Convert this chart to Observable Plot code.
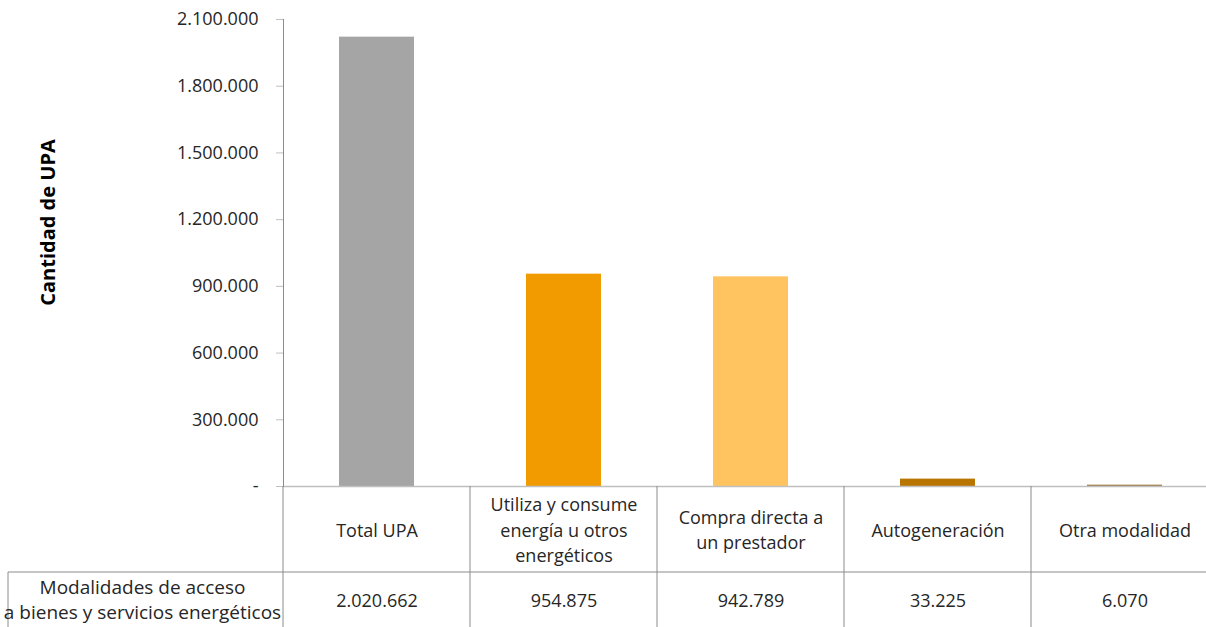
<!DOCTYPE html>
<html><head><meta charset="utf-8">
<script src="https://cdn.jsdelivr.net/npm/d3@7"></script>
<script src="https://cdn.jsdelivr.net/npm/@observablehq/plot@0.6"></script>
<style>body{margin:0;background:#fff;overflow:hidden;} #chart svg{overflow:visible;}</style>
</head><body><div id="chart"></div>
<script>
const categories = ["Total UPA", "Utiliza y consume\nenergía u otros\nenergéticos", "Compra directa a\nun prestador", "Autogeneración", "Otra modalidad"];
const values = [2020662, 954875, 942789, 33225, 6070];
const colors = ["#a5a5a5", "#f29b00", "#ffc460", "#b87500", "#9e7b45"];
const yTicks = [0, 300000, 600000, 900000, 1200000, 1500000, 1800000, 2100000];
const rowLabel = "Modalidades de acceso\na bienes y servicios energéticos";
const yLabel = "Cantidad de UPA";

const data = categories.map((c, i) => ({c, v: values[i], color: colors[i]}));
const loc = d3.formatLocale({decimal: ",", thousands: ".", grouping: [3], currency: ["$", ""]});
const fmt = loc.format(",d");
const FONT = "'Open Sans', 'Noto Sans', sans-serif";
const TXT = "#262626";
const ROW1 = 86;
const FS = 18;

const chart = Plot.plot({
  width: 1206, height: 627,
  marginTop: 19, marginBottom: 141, marginLeft: 283, marginRight: -12,
  style: {fontFamily: FONT, fontSize: FS + "px", color: TXT, background: "#fff", overflow: "visible"},
  x: {domain: categories, paddingInner: 0.6, paddingOuter: 0.3, axis: null},
  y: {domain: [0, 2100000], axis: null},
  marks: [
    Plot.barY(data, {x: "c", y: "v", fill: "color"}),
    Plot.ruleY([0], {stroke: "#bfbfbf", strokeWidth: 1.5}),
    Plot.axisY({ticks: yTicks, tickFormat: d => d === 0 ? "-" : fmt(d), tickSize: 7, tickPadding: 18,
      stroke: "#bfbfbf", label: null, fontSize: FS, fill: TXT}),
    Plot.frame({anchor: "left", stroke: "#8c8c8c"}),
    Plot.text(data, {x: "c", frameAnchor: "bottom", dy: ROW1 / 2 - 1, text: "c", lineAnchor: "middle",
      lineHeight: 1.4, fontSize: FS, fill: TXT}),
    Plot.text(data, {x: "c", frameAnchor: "bottom", dy: ROW1 + 29, text: d => fmt(d.v),
      lineAnchor: "middle", fontSize: FS, fill: TXT})
  ]
});
document.getElementById("chart").append(chart);

// table grid + row label + y label, positioned through the Plot scales
const sx = chart.scale("x"), sy = chart.scale("y");
const svg = d3.select(chart);
const base = sy.apply(0);
const x0 = sx.range[0], x1 = sx.range[1], step = sx.step;
const bottom = 627;
const row2 = base + ROW1;
const leftEdge = 8;
const g = svg.append("g").attr("stroke", "#8c8c8c").attr("stroke-width", 1);
categories.forEach((c, i) => {
  if (i === 0) return;
  g.append("line").attr("x1", x0 + i * step).attr("x2", x0 + i * step).attr("y1", base).attr("y2", bottom);
});
g.append("line").attr("x1", x0).attr("x2", x0).attr("y1", base).attr("y2", bottom);
g.append("line").attr("x1", leftEdge).attr("x2", x1).attr("y1", row2).attr("y2", row2);
g.append("line").attr("x1", leftEdge).attr("x2", leftEdge).attr("y1", row2).attr("y2", bottom);

const lines = rowLabel.split("\n");
const t = svg.append("text").attr("text-anchor", "middle").attr("font-family", FONT).attr("font-size", 19).attr("fill", TXT);
lines.forEach((l, i) => {
  t.append("tspan").attr("x", (leftEdge + x0) / 2 - 3).attr("y", (row2 + bottom) / 2 + (i - (lines.length - 1) / 2) * 25).attr("dy", "0.35em").text(l);
});

const [r0, r1] = sy.range;
svg.append("text").attr("transform", `translate(48,${(r0 + r1) / 2 - 30}) rotate(-90)`)
  .attr("text-anchor", "middle").attr("dy", "0.35em").attr("font-family", FONT)
  .attr("font-size", 20).attr("font-weight", "bold").attr("fill", "#000").text(yLabel);
</script>
</body></html>
